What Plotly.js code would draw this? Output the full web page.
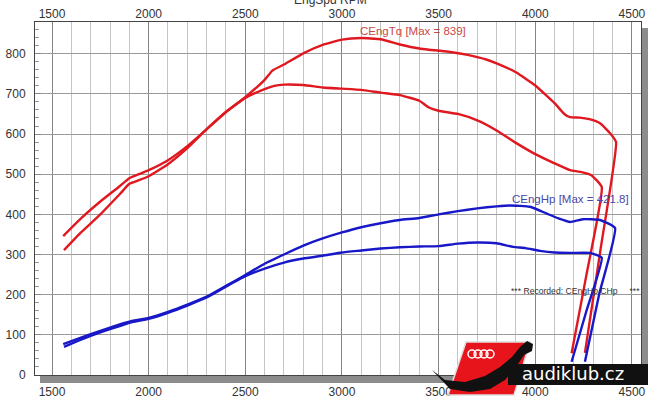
<!DOCTYPE html>
<html>
<head>
<meta charset="utf-8">
<script src="https://cdn.plot.ly/plotly-3.0.1.min.js"></script>
<style>html,body{margin:0;padding:0;background:#fff;}#chart{width:652px;height:400px;}</style>
</head>
<body>
<div id="chart"></div>
<script>
// ---- data ----
const tqA_rpm = [1558,1650,1750,1850,1900,1950,2000,2100,2200,2300,2400,2500,2600,2640,2700,2800,2900,3000,3100,3200,3300,3400,3450,3550,3650,3750,3800,3900,4000,4100,4150,4180,4230,4280,4335,4387,4418,4340,4257];
const tqA     = [346,390,432,470,490,500,510,535,570,612,655,692,735,758,773,801,822,835,839,836,823,813,810,805,797,785,776,754,721,677,650,642,641,637,627,602,580,320,55];
const tqB_rpm = [1562,1650,1750,1850,1900,1950,2000,2100,2200,2300,2400,2500,2600,2650,2700,2800,2900,3000,3100,3200,3300,3400,3450,3500,3600,3700,3800,3900,4000,4100,4180,4240,4292,4344,4265,4188];
const tqB     = [311,355,400,450,476,485,495,525,565,612,655,690,712,720,723,722,716,713,710,703,697,683,666,658,650,634,609,578,550,527,510,505,497,468,250,54];
const hpA_rpm = [1558,1650,1750,1850,1900,2000,2100,2200,2300,2400,2500,2600,2700,2800,2900,3000,3100,3200,3300,3400,3500,3600,3700,3800,3869,3973,4059,4120,4180,4248,4335,4413,4330,4257];
const hpA     = [77,93,110,126,133,142,157,175,195,222,249,277,300,322,340,355,368,378,386,391,400,408,415,420,422,419,402,390,381,388,386,366,200,33];
const hpB_rpm = [1562,1650,1750,1850,1900,2000,2100,2200,2300,2400,2500,2600,2700,2800,2900,3000,3100,3200,3300,3400,3500,3600,3700,3800,3885,3950,4025,4100,4180,4283,4344,4265,4188];
const hpB     = [70,88,106,122,130,140,155,173,193,220,246,265,280,290,297,305,310,315,318,320,321,327,330,328,319,316,309,305,304,304,292,160,33];
const xTicks  = [1500,2000,2500,3000,3500,4000,4500];
const yTicks  = [0,100,200,300,400,500,600,700,800];
const tqLabel = 'CEngTq [Max = 839]';
const hpLabel = 'CEngHp [Max = 421.8]';
const recLabel = '*** Recorded: CEngHp CHp     ***';
const xTitle  = 'EngSpd RPM';
const logoText = 'audiklub.cz';

// ---- layout helpers (pixel -> paper) ----
const L=35, R=641, T=22, B=375;
const X = px => (px-L)/(R-L);
const Y = py => (B-py)/(B-T);

const RED='#e01820', BLUE='#1818c8';
const line = (c)=>({color:c,width:2.4,shape:'spline',smoothing:0.4});
const traces = [
  {x:tqA_rpm,y:tqA,mode:'lines',line:line(RED),hoverinfo:'none'},
  {x:tqB_rpm,y:tqB,mode:'lines',line:line(RED),hoverinfo:'none'},
  {x:hpA_rpm,y:hpA,mode:'lines',line:line(BLUE),hoverinfo:'none'},
  {x:hpB_rpm,y:hpB,mode:'lines',line:line(BLUE),hoverinfo:'none'},
  {x:xTicks,y:xTicks.map(()=>0),xaxis:'x2',mode:'lines',line:{width:0},opacity:0,hoverinfo:'none'}
];

const font = {family:'Liberation Sans, Arial, sans-serif',size:12,color:'#333'};
const xr=[1412,4547];

function pathStr(pts){return 'M '+pts.map(p=>X(p[0])+','+Y(p[1])).join(' L ')+' Z';}

const shapes = [
  // drop shadow
  {type:'rect',xref:'paper',yref:'paper',x0:X(40),x1:X(648),y0:Y(383),y1:Y(376),fillcolor:'#8c8c8c',line:{width:0}},
  {type:'rect',xref:'paper',yref:'paper',x0:X(642),x1:X(648),y0:Y(383),y1:Y(28),fillcolor:'#8c8c8c',line:{width:0}},
  // logo: red badge
  {type:'path',xref:'paper',yref:'paper',path:pathStr([[466,342],[530,342],[514,395],[448,395]]),fillcolor:'#e8141c',line:{color:'#ddd',width:1.5}},
  // lizard (rough)
  {type:'path',xref:'paper',yref:'paper',path:pathStr([[432,370],[445,380],[465,382],[485,376],[500,367],[512,357],[520,347],[527,341],[533,344],[532,351],[524,355],[516,367],[505,380],[490,389],[470,392],[450,389]]),fillcolor:'#111',line:{width:0}},
  // black bar
  {type:'rect',xref:'paper',yref:'paper',x0:X(508),x1:X(648),y0:Y(385),y1:Y(364),fillcolor:'#111',line:{width:0}}
];
// audi rings
[472,478,484,490].forEach(cx=>shapes.push({type:'circle',xref:'paper',yref:'paper',x0:X(cx-4),x1:X(cx+4),y0:Y(358),y1:Y(350),line:{color:'#fff',width:1.5}}));

const layout = {
  width:652,height:400,
  margin:{l:L,r:652-R,t:T,b:400-B,pad:0},
  paper_bgcolor:'#fff',plot_bgcolor:'#fff',
  showlegend:false,
  font:font,
  xaxis:{range:xr,tickvals:xTicks,ticks:'',showgrid:true,gridcolor:'#858585',gridwidth:1,
         minor:{dtick:100,tick0:0,showgrid:true,gridcolor:'#c4c4c4',gridwidth:1},
         showline:true,linecolor:'#444',linewidth:1,mirror:true,zeroline:false,
         tickfont:font,ticklabelstandoff:6},
  xaxis2:{range:xr,overlaying:'x',side:'top',tickvals:xTicks,ticks:'',showgrid:false,showline:false,zeroline:false,tickfont:font,ticklabelstandoff:1},
  yaxis:{range:[0,879],tickvals:yTicks,ticks:'inside',ticklen:6,tickcolor:'#888',showgrid:true,gridcolor:'#9a9a9a',gridwidth:1,
         minor:{dtick:20,tick0:0,ticks:'inside',ticklen:4,tickcolor:'#999',showgrid:false},
         showline:true,linecolor:'#444',linewidth:1,mirror:true,zeroline:false,
         tickfont:font,ticklabelstandoff:6},
  shapes:shapes,
  annotations:[
    {text:tqLabel,xref:'paper',yref:'paper',x:X(358),y:Y(31),xanchor:'left',yanchor:'middle',showarrow:false,font:{family:'Liberation Sans, Arial, sans-serif',size:11.5,color:'#c84848'}},
    {text:hpLabel,xref:'paper',yref:'paper',x:X(510),y:Y(199),xanchor:'left',yanchor:'middle',showarrow:false,font:{family:'Liberation Sans, Arial, sans-serif',size:11.5,color:'#4848a8'}},
    {text:recLabel,xref:'paper',yref:'paper',x:X(509),y:Y(291),xanchor:'left',yanchor:'middle',showarrow:false,font:{family:'Liberation Sans, Arial, sans-serif',size:8.6,color:'#333'}},
    {text:xTitle,xref:'paper',yref:'paper',x:X(330),y:Y(0),xanchor:'center',yanchor:'middle',showarrow:false,font:{family:'Liberation Sans, Arial, sans-serif',size:12,color:'#333'}},
    {text:logoText,xref:'paper',yref:'paper',x:X(573),y:Y(373.5),xanchor:'center',yanchor:'middle',showarrow:false,font:{family:'DejaVu Sans, sans-serif',size:18,color:'#fff'}}
  ]
};
Plotly.newPlot('chart',traces,layout,{staticPlot:true,displayModeBar:false});
</script>
</body>
</html>
